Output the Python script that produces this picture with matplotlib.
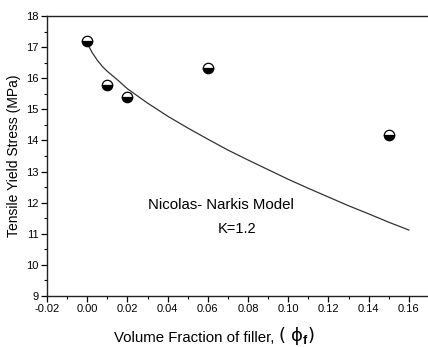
import numpy as np
import matplotlib
matplotlib.use("Agg")
import matplotlib.pyplot as plt
from matplotlib.ticker import MultipleLocator

plt.rcParams['font.family'] = ['Liberation Sans', 'DejaVu Sans']
plt.rcParams['mathtext.fontset'] = 'custom'
plt.rcParams['mathtext.rm'] = 'Liberation Sans'
plt.rcParams['mathtext.bf'] = 'Liberation Sans:bold'

# measured tensile yield stress
phi_data = [0.0, 0.01, 0.02, 0.06, 0.15]
stress_data = [17.21, 15.77, 15.41, 16.32, 14.17]

# Nicolas-Narkis model curve
phi_model = [0.0005, 0.001, 0.0025, 0.005, 0.0075, 0.01, 0.015, 0.02, 0.03, 0.04,
             0.05, 0.06, 0.07, 0.08, 0.09, 0.10, 0.11, 0.12, 0.13, 0.14, 0.15, 0.16]
stress_model = [17.07, 17.0, 16.82, 16.58, 16.38, 16.22, 15.95, 15.66, 15.2, 14.78,
                14.4, 14.04, 13.69, 13.37, 13.06, 12.75, 12.46, 12.18, 11.9, 11.64, 11.37, 11.12]

fig = plt.figure(figsize=(4.28, 3.47), dpi=100)
ax = fig.add_axes([0.1098, 0.147, 0.8902, 0.807])

# model line
ax.plot(phi_model, stress_model, color="#333333", lw=0.9)

# half filled circles (bottom black, top white)
ax.plot(phi_data, stress_data, ls="none", marker="o", markersize=7.5,
        fillstyle="bottom", markerfacecolor="black", markerfacecoloralt="white",
        markeredgecolor="black", markeredgewidth=0.9)

ax.set_xlim(-0.02, 0.1695)
ax.set_ylim(9, 18)
ax.xaxis.set_minor_locator(MultipleLocator(0.01))
ax.yaxis.set_major_locator(MultipleLocator(1))
ax.yaxis.set_minor_locator(MultipleLocator(0.5))
xt = np.arange(-0.02, 0.161, 0.02)
ax.set_xticks(xt)
ax.set_xticklabels([f"{v:.2f}" for v in xt])
ax.tick_params(which="major", direction="out", length=4, width=0.9, labelsize=8, pad=2,
               top=False, right=False)
ax.tick_params(which="minor", direction="out", length=2.5, width=0.8, top=False, right=False)

for s in ax.spines.values():
    s.set_linewidth(1.0)
    s.set_color("#222222")
# the frame is cut at the right edge in the original
ax.spines["right"].set_visible(False)

# x label in two parts (bracket part is drawn larger)
fig.text(0.266, 0.014, "Volume Fraction of filler,", fontsize=10.8, ha="left", va="baseline")
fig.text(0.650, 0.016, "( ϕ$_{\\mathbf{f}}$)", fontsize=13, ha="left", va="baseline",
         family=['DejaVu Sans'])
ax.set_ylabel("Tensile Yield Stress (MPa)", fontsize=10, labelpad=4)

ax.text(0.0665, 11.92, "Nicolas- Narkis Model", fontsize=10.8, ha="center", va="center")
ax.text(0.0745, 11.15, "K=1.2", fontsize=10.5, ha="center", va="center")

fig.savefig("out.png", dpi=100)
